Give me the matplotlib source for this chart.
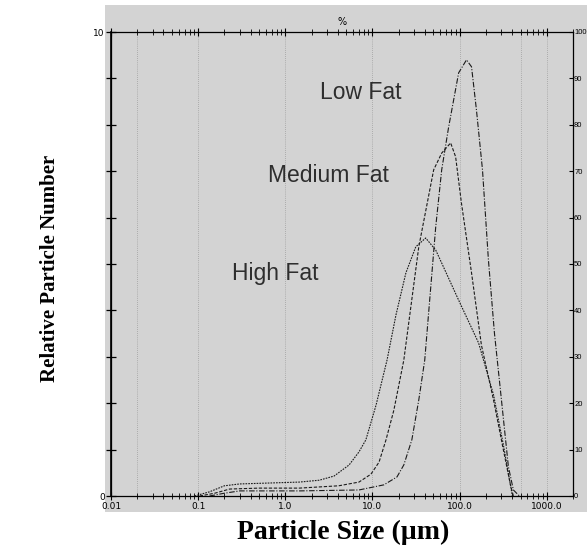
import matplotlib
matplotlib.use("Agg")
import matplotlib.pyplot as plt
from matplotlib.patches import Rectangle
from matplotlib.ticker import LogLocator, FixedLocator, NullFormatter, FixedFormatter

# ---- data (particle size in µm, relative number in %) ----
high_size = [0.091, 0.135, 0.20, 0.30, 0.66, 1.45, 2.45, 3.63, 5.4, 7.0, 8.4, 11.0, 14.7,
             18.6, 24.2, 31.4, 40.8, 53.2, 62.3, 97.5, 165, 245, 318, 383, 403]
high_pct = [0, 0.9, 2.2, 2.6, 2.8, 3.0, 3.4, 4.3, 6.7, 9.5, 12.1, 19.6, 29.3,
            39.0, 48.1, 53.7, 55.6, 53.0, 50.2, 42.2, 33.0, 21.8, 11.0, 2.4, 0]

med_size = [0.104, 0.155, 0.23, 0.50, 1.45, 4.1, 7.0, 9.6, 11.9, 14.3, 17.6, 22.9, 34.0,
            50.4, 62.3, 78.9, 90, 105, 137, 178, 245, 318, 383, 414]
med_pct = [0, 0.6, 1.5, 1.7, 1.7, 2.2, 3.0, 4.7, 7.3, 12.1, 18.5, 29.3, 53.7,
           70.3, 73.9, 76.1, 73.1, 63.1, 48.1, 32.5, 20.7, 9.9, 2.4, 0]

low_size = [0.135, 0.20, 0.30, 1.45, 7.0, 13.5, 19.1, 22.9, 28.3, 34.0, 39.8, 53.2, 62.3,
            74.8, 97.5, 120, 137, 156, 183, 214, 251, 294, 363, 414, 485]
low_pct = [0, 0.6, 1.1, 1.1, 1.3, 2.4, 4.1, 6.7, 12.1, 20.7, 29.3, 58.0, 70.3,
           79.5, 91.2, 94.0, 92.5, 83.2, 70.3, 50.9, 35.1, 22.8, 6.3, 1.3, 0]

series_labels = ["Low Fat", "Medium Fat", "High Fat"]
label_pos = [(7.4, 87), (3.1, 69), (0.77, 48)]

x_ticks = [0.01, 0.1, 1, 10, 100, 1000]
x_ticklabels = ["0.01", "0.1", "1.0", "10.0", "100.0", "1000.0"]
right_ticks = list(range(0, 101, 10))
left_ticks = list(range(0, 11))
left_ticklabels = ["0"] + [""] * 9 + ["10"]

W, H = 587, 557
fig = plt.figure(figsize=(W / 100, H / 100), dpi=100)
fig.patch.set_facecolor("white")

bg = "#d3d3d3"
fig.patches.append(Rectangle((105 / W, (H - 512) / H), (W - 105) / W, (512 - 5) / H,
                             transform=fig.transFigure, facecolor=bg, edgecolor="none", zorder=-10))

ax = fig.add_axes([111 / W, (H - 496) / H, 462 / W, 464 / H])
ax.set_facecolor(bg)
ax.set_xscale("log")
ax.set_xlim(0.01, 2000)
ax.set_ylim(0, 100)

lc = "#1a1a1a"
ax.plot(low_size, low_pct, color=lc, lw=0.8, ls=(0, (5, 1.5, 1, 1.5)))
ax.plot(med_size, med_pct, color=lc, lw=0.8, ls=(0, (3, 1.5)))
ax.plot(high_size, high_pct, color=lc, lw=0.8, ls=(0, (1.5, 1)))

for lab, (xx, yy) in zip(series_labels, label_pos):
    ax.text(xx, yy, lab, ha="center", va="center", fontsize=16.5,
            family="Liberation Sans", color="#2e2e2e")

# grid (faint dotted)
for xv in [0.02, 0.1, 1, 10, 100, 500, 1000]:
    ax.axvline(xv, color="#888888", lw=0.5, ls=(0, (1, 2)), zorder=0.5)

# x axis ticks
ax.xaxis.set_major_locator(FixedLocator(x_ticks))
ax.xaxis.set_major_formatter(FixedFormatter(x_ticklabels))
ax.xaxis.set_minor_locator(LogLocator(base=10, subs=range(2, 10), numticks=20))
ax.xaxis.set_minor_formatter(NullFormatter())
ax.tick_params(axis="x", which="major", direction="inout", length=6, width=0.8,
               labelsize=6.5, pad=1, top=True)
ax.tick_params(axis="x", which="minor", direction="inout", length=4, width=0.6, top=True)

# right y axis (0-100)
ax.yaxis.set_major_locator(FixedLocator(right_ticks))
ax.tick_params(axis="y", which="major", left=False, right=True, labelleft=False,
               labelright=True, direction="in", length=3, width=0.8, labelsize=5.5, pad=0.8)
for t in ax.get_yticklabels():
    t.set_family(["Liberation Sans Narrow", "Liberation Sans"])

# left y axis (0-10)
sec = ax.secondary_yaxis("left", functions=(lambda y: y / 10.0, lambda y: y * 10.0))
sec.yaxis.set_major_locator(FixedLocator(left_ticks))
sec.yaxis.set_major_formatter(FixedFormatter(left_ticklabels))
sec.tick_params(direction="inout", length=7, width=0.9, labelsize=6.5, pad=1)
sec.spines["left"].set_linewidth(1.2)

for s in ax.spines.values():
    s.set_linewidth(0.9)
    s.set_color("black")

ax.set_title("%", fontsize=7, pad=5)

fig.text(343 / W, (H - 532) / H, "Particle Size (\u00b5m)", ha="center", va="center",
         fontsize=20, fontweight="bold", family="Liberation Serif")
fig.text(50 / W, (H - 268) / H, "Relative Particle Number", ha="center", va="center",
         rotation=90, fontsize=15, fontweight="bold", family="Liberation Serif")

fig.savefig("out.png", dpi=100)
